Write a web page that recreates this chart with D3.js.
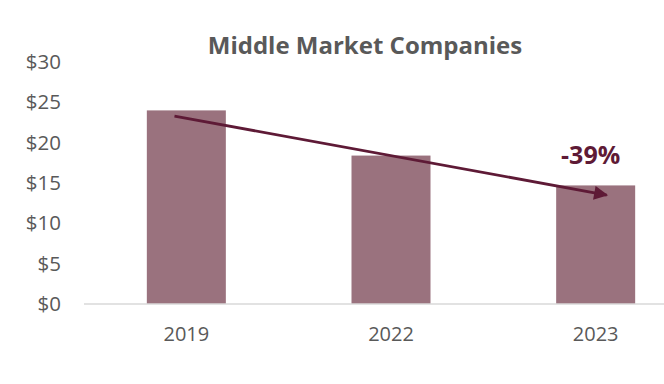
<!DOCTYPE html>
<html>
<head>
<meta charset="utf-8">
<script src="https://cdn.jsdelivr.net/npm/d3@7"></script>
<style>
  body { margin: 0; background: #fff; }
  svg { display: block; font-family: "Open Sans", sans-serif; }
</style>
</head>
<body>
<div id="canvas"></div>
<script>
// data
var years = ['2019', '2022', '2023'];
var values = [24, 18.4, 14.7];
var yTicks = [0, 5, 10, 15, 20, 25, 30];
var changeLabel = '-39%';
// arrow ends: category, value, position across the band
var arrowFrom = ['2019', 23.3, 0.35];
var arrowTo = ['2023', 13.5, 0.64];

var W = 664, H = 384;
var m = {t:62, r:-34, b:80, l:84};

var svg = d3.select('#canvas')
    .append('svg')
    .attr('width', W)
    .attr('height', H);

var x = d3.scaleBand()
    .domain(years)
    .range([m.l, W - m.r])
    .paddingInner(0.614)
    .paddingOuter(0.307);

var y = d3.scaleLinear()
    .domain([0, 30])
    .range([H - m.b, m.t]);

// title
svg.append('text')
    .attr('x', 365)
    .attr('y', 54)
    .attr('text-anchor', 'middle')
    .style('font-size', '24px')
    .style('font-weight', 'bold')
    .style('fill', '#595959')
    .text('Middle Market Companies');

// y axis (labels only)
var yAxis = svg.append('g')
    .attr('transform', 'translate(' + m.l + ',0)')
    .call(d3.axisLeft(y).tickValues(yTicks).tickSize(0).tickPadding(23)
        .tickFormat(function(d){ return '$' + d; }));
yAxis.select('.domain').remove();
yAxis.selectAll('text')
    .style('font-size', '20.5px')
    .style('font-family', '"Open Sans", sans-serif')
    .style('fill', '#595959');

// bars
svg.selectAll('rect.bar')
    .data(years)
    .enter()
    .append('rect')
    .attr('class', 'bar')
    .attr('x', function(d){ return x(d); })
    .attr('width', x.bandwidth())
    .attr('y', function(d, i){ return y(values[i]); })
    .attr('height', function(d, i){ return y(0) - y(values[i]); })
    .style('fill', '#9a727e');

// x axis
var xAxis = svg.append('g')
    .attr('transform', 'translate(0,' + y(0) + ')')
    .call(d3.axisBottom(x).tickSize(0).tickPadding(23));
xAxis.select('.domain')
    .attr('d', 'M' + m.l + ',0H' + W)
    .style('stroke', '#d9d9d9')
    .style('stroke-width', 1.5);
xAxis.selectAll('text')
    .style('font-size', '20px')
    .style('font-family', '"Open Sans", sans-serif')
    .style('fill', '#595959');

// arrow
svg.append('defs').append('marker')
    .attr('id', 'head')
    .attr('viewBox', '0 0 10 10')
    .attr('refX', 9)
    .attr('refY', 5)
    .attr('markerWidth', 6)
    .attr('markerHeight', 5)
    .attr('markerUnits', 'strokeWidth')
    .attr('orient', 'auto')
    .append('path')
    .attr('d', 'M0,0L10,5L0,10Z')
    .style('fill', '#5e1a36');

function ax(a){ return x(a[0]) + x.bandwidth() * a[2]; }
svg.append('line')
    .attr('x1', ax(arrowFrom))
    .attr('y1', y(arrowFrom[1]))
    .attr('x2', ax(arrowTo))
    .attr('y2', y(arrowTo[1]))
    .style('stroke', '#5e1a36')
    .style('stroke-width', 2.8)
    .attr('marker-end', 'url(#head)');

// change label
svg.append('text')
    .attr('x', x('2023') + x.bandwidth() / 2 - 5)
    .attr('y', y(values[2]) - 21)
    .attr('text-anchor', 'middle')
    .style('font-size', '25px')
    .style('font-weight', 'bold')
    .style('fill', '#5e1a36')
    .text(changeLabel);
</script>
</body>
</html>
